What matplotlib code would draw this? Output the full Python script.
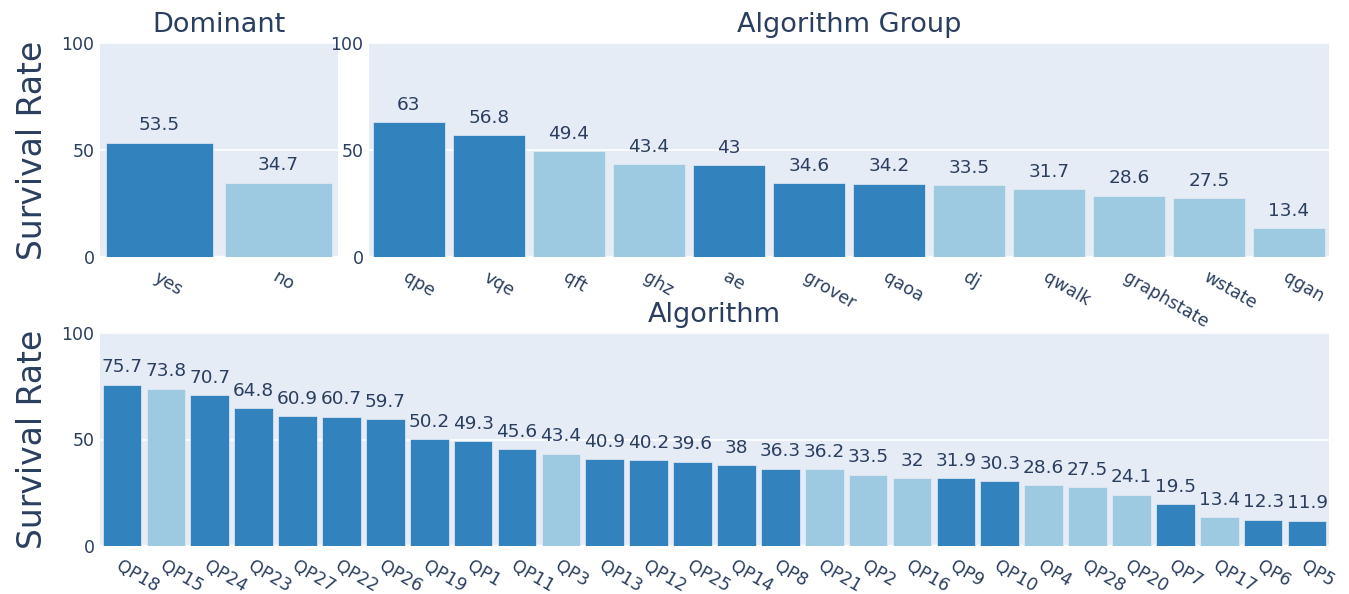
import numpy as np
import matplotlib
matplotlib.use("Agg")
from matplotlib import pyplot as plt
from matplotlib import transforms

# data
dominant_cats = ["yes", "no"]
dominant_vals = [53.5, 34.7]
dominant_flag = [True, False]

group_cats = ["qpe", "vqe", "qft", "ghz", "ae", "grover", "qaoa", "dj",
              "qwalk", "graphstate", "wstate", "qgan"]
group_vals = [63, 56.8, 49.4, 43.4, 43, 34.6, 34.2, 33.5, 31.7, 28.6, 27.5, 13.4]
group_flag = [True, True, False, False, True, True, True, False,
              False, False, False, False]

algo_cats = ["QP18", "QP15", "QP24", "QP23", "QP27", "QP22", "QP26", "QP19",
             "QP1", "QP11", "QP3", "QP13", "QP12", "QP25", "QP14", "QP8",
             "QP21", "QP2", "QP16", "QP9", "QP10", "QP4", "QP28", "QP20",
             "QP7", "QP17", "QP6", "QP5"]
algo_vals = [75.7, 73.8, 70.7, 64.8, 60.9, 60.7, 59.7, 50.2, 49.3, 45.6, 43.4,
             40.9, 40.2, 39.6, 38, 36.3, 36.2, 33.5, 32, 31.9, 30.3, 28.6,
             27.5, 24.1, 19.5, 13.4, 12.3, 11.9]
algo_flag = [True, False, True, True, True, True, True, True, True, True, False,
             True, True, True, True, True, False, False, False, True, True,
             False, False, False, True, False, True, True]

DARK = "#3182bd"
LIGHT = "#9ecae1"
BG = "#E5ECF6"
FONT_C = "#2a3f5f"

plt.rcParams['font.family'] = ['DejaVu Sans']

W, H = 1349, 594
fig = plt.figure(figsize=(W / 100, H / 100), dpi=100)


def add_axes(x0, y_top, x1, y_bot):
    # pixel box -> figure fraction
    return fig.add_axes([x0 / W, 1 - y_bot / H, (x1 - x0) / W, (y_bot - y_top) / H])


def draw(ax, cats, vals, flags, title, ylabel=False, width=0.9):
    x = np.arange(len(cats))
    colors = [DARK if f else LIGHT for f in flags]
    ax.set_facecolor(BG)
    ax.set_axisbelow(True)
    ax.yaxis.grid(True, color="white", linewidth=1.2)
    ax.axhline(0, color="white", linewidth=2.5, zorder=1)
    bars = ax.bar(x, vals, width=width, color=colors, edgecolor=BG, linewidth=0.5, zorder=2)
    ax.bar_label(bars, labels=[f"{v:g}" for v in vals], padding=6,
                 fontsize=13.3, color=FONT_C)
    ax.set_xlim(-0.5, len(cats) - 0.5)
    ax.set_ylim(0, 100)
    ax.set_yticks([0, 50, 100])
    ax.tick_params(axis="y", length=0, pad=4, labelsize=12.5, labelcolor=FONT_C)
    ax.set_xticks(x)
    offset = transforms.ScaledTranslation(-8 / 100, 0, fig.dpi_scale_trans)
    ax.set_xticklabels(cats, rotation=-30, ha="left", va="top",
                       rotation_mode="anchor", fontsize=12.5, color=FONT_C)
    for lab in ax.get_xticklabels():
        lab.set_transform(lab.get_transform() + offset)
    ax.tick_params(axis="x", length=0, pad=8)
    for s in ax.spines.values():
        s.set_visible(False)
    ax.set_title(title, fontsize=19.5, color=FONT_C, pad=8)
    if ylabel:
        ax.set_ylabel("Survival Rate", fontsize=23.8, color=FONT_C, labelpad=9)


ax1 = add_axes(100, 43, 338, 257)
draw(ax1, dominant_cats, dominant_vals, dominant_flag, "Dominant", ylabel=True)

ax2 = add_axes(369, 43, 1329, 257)
draw(ax2, group_cats, group_vals, group_flag, "Algorithm Group")

ax3 = add_axes(100, 333, 1329, 546)
draw(ax3, algo_cats, algo_vals, algo_flag, "Algorithm", ylabel=True, width=0.88)

fig.savefig("out.png", dpi=100, facecolor="white")
